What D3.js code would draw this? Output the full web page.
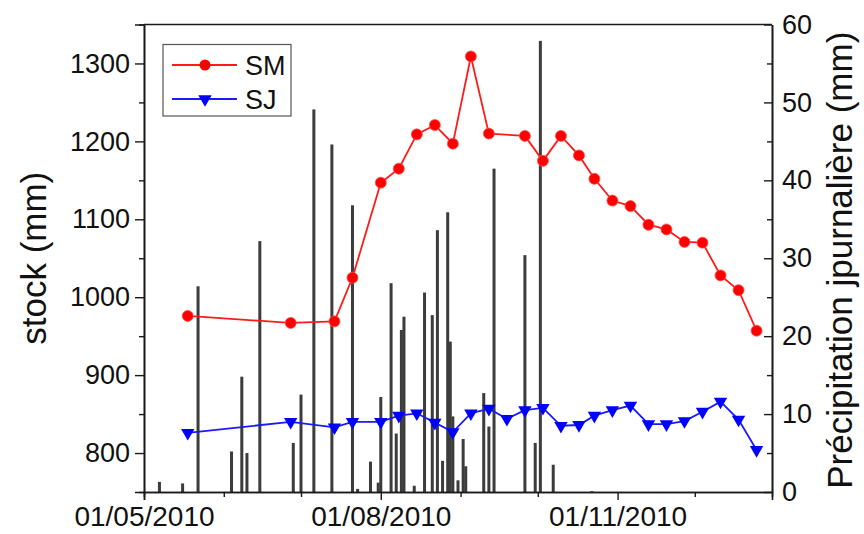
<!DOCTYPE html>
<html><head><meta charset="utf-8">
<script src="https://cdn.jsdelivr.net/npm/d3@7"></script>
<style>body{margin:0;background:#fff;} text{font-family:"Liberation Sans",Arial,sans-serif;fill:#111;}</style>
</head><body>
<svg id="c" width="864" height="534"></svg>
<script>
// observation dates (weekly)
const obsDates = ["2010-05-18","2010-06-27","2010-07-14","2010-07-21","2010-08-01","2010-08-08","2010-08-15","2010-08-22","2010-08-29","2010-09-05","2010-09-12","2010-09-19","2010-09-26","2010-10-03","2010-10-10","2010-10-17","2010-10-23","2010-10-30","2010-11-06","2010-11-13","2010-11-20","2010-11-27","2010-12-04","2010-12-11","2010-12-18","2010-12-25"];
const smValues = [976,967,969,1025,1147,1165,1209,1221,1197,1309,1210,null,1207,1175,1207,1182,1152,1124,1117,1093,1087,1071,1070,1028,1009,957];
const sjValues = [826,840,833,840,840,848,851,839,827,851,857,844,855,858,835,836,848,855,861,837,837,841,853,866,843,804];
// daily precipitation (mm)
const rainDates = ["2010-05-07","2010-05-16","2010-05-22","2010-06-04","2010-06-08","2010-06-10","2010-06-15","2010-06-28","2010-07-01","2010-07-06","2010-07-13","2010-07-21","2010-07-23","2010-07-28","2010-07-31","2010-08-01","2010-08-05","2010-08-07","2010-08-09","2010-08-10","2010-08-14","2010-08-18","2010-08-21","2010-08-23","2010-08-25","2010-08-27","2010-08-28","2010-08-29","2010-08-31","2010-09-02","2010-09-03","2010-09-10","2010-09-12","2010-09-14","2010-09-26","2010-09-30","2010-10-02","2010-10-07","2010-10-22"];
const rainValues = [1.3,1.1,26.4,5.2,14.8,5.0,32.2,6.3,12.5,49.1,44.6,36.8,0.4,3.9,1.2,12.2,26.8,7.5,20.8,22.5,0.8,25.6,22.7,33.6,4.0,35.9,19.3,9.7,1.5,6.8,3.3,12.7,8.4,41.5,30.4,6.3,57.9,3.5,0.1];
const xTickLabels = ["01/05/2010","01/08/2010","01/11/2010"];
const leftTicks = [800,900,1000,1100,1200,1300];
const rightTicks = [0,10,20,30,40,50,60];

const P = d3.utcParse("%Y-%m-%d");
const L = 144, R = 772, T = 24.5, B = 492;
const svg = d3.select("#c");
const x = d3.scaleUtc().domain([P("2010-05-01"), P("2010-12-31")]).range([L, R]);
const yL = d3.scaleLinear().domain([750, 1350]).range([B, T]);
const yR = d3.scaleLinear().domain([0, 60]).range([B, T]);

// bars
const bw = 3;
svg.append("g").selectAll("rect").data(rainDates.map((d,i)=>({d:P(d), v:rainValues[i]})))
  .join("rect")
  .attr("x", d => x(d.d) - bw/2).attr("width", bw)
  .attr("y", d => yR(d.v)).attr("height", d => B - yR(d.v))
  .attr("fill", "#3c3c3c");

// axes
const ax = "#1a1a1a";
const gL = svg.append("g").attr("transform", `translate(${L},0)`)
  .call(d3.axisLeft(yL).tickValues(leftTicks).tickSize(9).tickPadding(5).tickFormat(d3.format("d")));
const gLm = svg.append("g").attr("transform", `translate(${L},0)`)
  .call(d3.axisLeft(yL).tickValues([850,950,1050,1150,1250]).tickSize(5).tickFormat(""));
const gR = svg.append("g").attr("transform", `translate(${R},0)`)
  .call(d3.axisRight(yR).tickValues(rightTicks).tickSizeInner(-8).tickSizeOuter(0).tickPadding(10));
const gRm = svg.append("g").attr("transform", `translate(${R},0)`)
  .call(d3.axisRight(yR).tickValues([5,15,25,35,45,55]).tickSizeInner(-5).tickSizeOuter(0).tickFormat(""));
const majorX = ["2010-05-01","2010-08-01","2010-11-01"].map(P);
const minorX = ["2010-06-01","2010-07-01","2010-09-01","2010-10-01","2010-12-01"].map(P);
const gB = svg.append("g").attr("transform", `translate(0,${B})`)
  .call(d3.axisBottom(x).tickValues(majorX).tickSize(8).tickPadding(6).tickFormat((d,i)=>xTickLabels[i]));
const gBm = svg.append("g").attr("transform", `translate(0,${B})`)
  .call(d3.axisBottom(x).tickValues(minorX).tickSize(5).tickFormat(""));
[gL,gLm,gR,gRm,gB,gBm].forEach(g => {
  g.selectAll(".domain").attr("stroke", ax).attr("stroke-width", 1.6);
  g.selectAll(".tick line").attr("stroke", ax).attr("stroke-width", 1.4);
  g.selectAll("text").attr("font-size", 27).attr("fill", "#111")
   .style("font-family", '"Liberation Sans",Arial,sans-serif');
});
gB.selectAll("text").attr("font-size", 28);
svg.append("line").attr("x1", L).attr("x2", R).attr("y1", T).attr("y2", T)
  .attr("stroke", ax).attr("stroke-width", 1.6);

// series
const sm = obsDates.map((d,i)=>({d:P(d), v:smValues[i]})).filter(p => p.v != null);
const sj = obsDates.map((d,i)=>({d:P(d), v:sjValues[i]}));
const line = d3.line().x(p => x(p.d)).y(p => yL(p.v));
svg.append("path").datum(sm).attr("d", line).attr("fill","none").attr("stroke","#ff1a1a").attr("stroke-width",1.8);
svg.append("g").selectAll("circle").data(sm).join("circle")
  .attr("cx", p => x(p.d)).attr("cy", p => yL(p.v)).attr("r", 5.5)
  .attr("fill", "#ff0000").attr("stroke", "#ff5050").attr("stroke-width", 0.8);
svg.append("path").datum(sj).attr("d", line).attr("fill","none").attr("stroke","#1a1aff").attr("stroke-width",1.8);
const tri = d3.symbol().type(d3.symbolTriangle).size(78);
svg.append("g").selectAll("path").data(sj).join("path")
  .attr("d", tri).attr("transform", p => `translate(${x(p.d)},${yL(p.v)}) rotate(180)`)
  .attr("fill", "#0000ff");

// titles
svg.append("text").attr("transform", `translate(46,${(T+B)/2}) rotate(-90)`)
  .attr("text-anchor","middle").attr("font-size",35).text("stock (mm)");
svg.append("text").attr("transform", `translate(852,${(T+B)/2 + 2}) rotate(-90)`)
  .attr("text-anchor","middle").attr("font-size",35).text("Précipitation jpurnalière (mm)");

// legend
const lg = svg.append("g");
lg.append("rect").attr("x",163).attr("y",44.5).attr("width",128).attr("height",71.5)
  .attr("fill","#fff").attr("stroke","#555").attr("stroke-width",1.2);
lg.append("line").attr("x1",172).attr("x2",237).attr("y1",65).attr("y2",65).attr("stroke","#ff1a1a").attr("stroke-width",1.8);
lg.append("circle").attr("cx",205).attr("cy",65).attr("r",5.5).attr("fill","#ff0000");
lg.append("text").attr("x",245).attr("y",75).attr("font-size",27).text("SM");
lg.append("line").attr("x1",172).attr("x2",237).attr("y1",99).attr("y2",99).attr("stroke","#1a1aff").attr("stroke-width",1.8);
lg.append("path").attr("d",tri).attr("transform","translate(205,99) rotate(180)").attr("fill","#0000ff");
lg.append("text").attr("x",245).attr("y",109).attr("font-size",27).text("SJ");
</script>
</body></html>
